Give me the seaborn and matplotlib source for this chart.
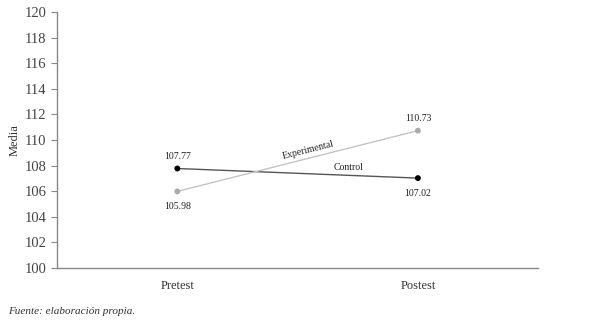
import matplotlib
matplotlib.use("Agg")
import matplotlib.pyplot as plt
import seaborn as sns
import pandas as pd
import numpy as np

phases = ["Pretest", "Postest"]
control = [107.77, 107.02]
experimental = [105.98, 110.73]
groups = ["Control", "Experimental"]
yticks = list(range(100, 121, 2))

sns.set_style("white")
plt.rcParams['font.family'] = ['Liberation Serif', 'DejaVu Serif']

df = pd.DataFrame({
    "x": [0, 1, 0, 1],
    "Media": control + experimental,
    "grupo": [groups[0]] * 2 + [groups[1]] * 2,
})

fig = plt.figure(figsize=(6, 3.24), dpi=100)
ax = fig.add_axes([0.095, 0.173, 0.802, 0.790])

sns.lineplot(data=df, x="x", y="Media", hue="grupo",
             palette={"Control": "#555555", "Experimental": "#c4c4c4"},
             linewidth=1.0, legend=False, ax=ax)
sns.scatterplot(data=df, x="x", y="Media", hue="grupo",
                palette={"Control": "#000000", "Experimental": "#aaaaaa"},
                s=18, linewidth=0, legend=False, ax=ax, zorder=3)

ax.set_xlim(-0.5, 1.5)
ax.set_ylim(100, 120)
ax.set_yticks(yticks)
ax.set_yticklabels([str(v) for v in yticks], fontsize=10.5, color="#444444")
ax.set_xticks([-0.5, 0.5, 1.5])
ax.set_xticklabels([])
ax.set_xticks([0, 1], minor=True)
ax.set_xticklabels(phases, minor=True, fontsize=9, color="#333333")
ax.tick_params(axis="x", which="minor", length=0, pad=9)
ax.tick_params(axis="x", which="major", length=4, color="#888888", direction="out")
ax.tick_params(axis="y", length=4, color="#888888", direction="out", left=True)
ax.set_xlabel("")
ax.set_ylabel("Media", fontsize=9, color="#333333", labelpad=3)
for s in ["top", "right"]:
    ax.spines[s].set_visible(False)
for s in ["left", "bottom"]:
    ax.spines[s].set_color("#888888")
    ax.spines[s].set_linewidth(1.0)

# value labels
for i, v in enumerate(control):
    off = 9 if i == 0 else -11
    ax.annotate(f"{v:.2f}", (i, v), xytext=(0, off), textcoords="offset points",
                ha="center", va="center", fontsize=7, color="#222222")
for i, v in enumerate(experimental):
    off = -11 if i == 0 else 9
    ax.annotate(f"{v:.2f}", (i, v), xytext=(0, off), textcoords="offset points",
                ha="center", va="center", fontsize=7, color="#222222")

# series labels
ex = 0.55
ey = experimental[0] + (experimental[1] - experimental[0]) * ex
p1 = ax.transData.transform((0, experimental[0]))
p2 = ax.transData.transform((1, experimental[1]))
ang = np.degrees(np.arctan2(p2[1] - p1[1], p2[0] - p1[0]))
ax.text(ex, ey + 0.3, groups[1], rotation=ang, rotation_mode="anchor",
        ha="center", va="bottom", fontsize=7, color="#222222")
cx = 0.71
cy = control[0] + (control[1] - control[0]) * cx
ax.text(cx, cy + 0.25, groups[0], ha="center", va="bottom", fontsize=7, color="#222222")

fig.text(0.013, 0.03, "Fuente: elaboración propia.", fontsize=8, style="italic", color="#333333")

fig.savefig("out.png", dpi=100)
